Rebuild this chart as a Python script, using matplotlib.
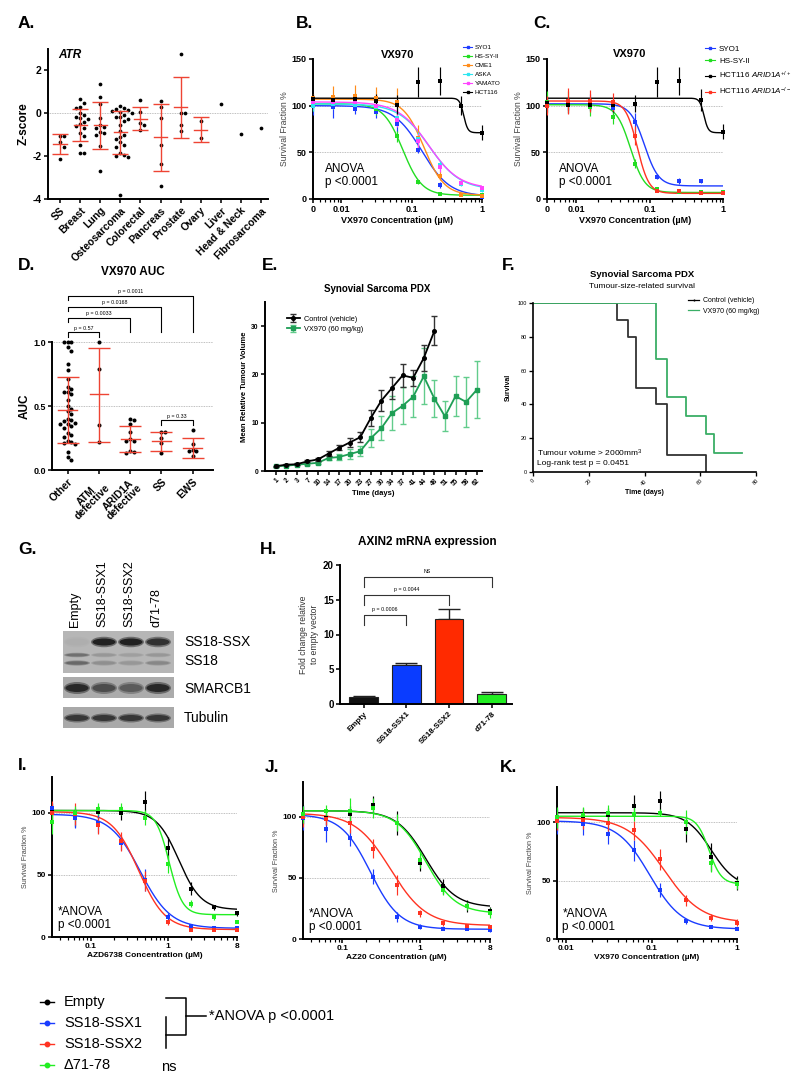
import numpy as np
import matplotlib
matplotlib.use('Agg')
import matplotlib.pyplot as plt
from matplotlib.lines import Line2D
from matplotlib.patches import Rectangle, Ellipse
from matplotlib.ticker import FixedLocator, LogLocator, NullFormatter

plt.rcParams['font.family'] = ['Liberation Sans', 'DejaVu Sans']
plt.rcParams['mathtext.fontset'] = 'custom'
plt.rcParams['mathtext.rm'] = 'Liberation Sans'
plt.rcParams['mathtext.it'] = 'Liberation Sans:italic'
plt.rcParams['mathtext.bf'] = 'Liberation Sans:bold'
plt.rcParams['axes.unicode_minus'] = False

# ---------------- data ----------------
# A. ATR z-scores per tumour type
a_groups = ['SS', 'Breast', 'Lung', 'Osteosarcoma', 'Colorectal', 'Pancreas',
            'Prostate', 'Ovary', 'Liver', 'Head & Neck', 'Fibrosarcoma']
a_z = [
    [-1.05, -1.07, -1.35, -1.55, -2.15],
    [0.69, 0.47, 0.28, 0.23, 0.03, -0.08, -0.16, -0.23, -0.28, -0.39, -0.5, -0.6,
     -0.7, -0.9, -1.06, -1.5, -1.84, -1.86],
    [1.38, 0.78, 0.44, -0.23, -0.55, -0.63, -0.7, -0.86, -0.94, -1.02, -1.52, -2.69],
    [0.34, 0.23, 0.19, 0.16, 0.12, 0.08, 0.0, -0.08, -0.16, -0.19, -0.28, -0.34, -0.55,
     -0.81, -1.02, -1.09, -1.22, -1.33, -1.48, -1.56, -1.84, -1.95, -2.0, -2.03, -3.83],
    [0.62, 0.08, -0.47, -0.55, -0.78],
    [0.56, 0.31, -0.23, -1.48, -2.38, -3.4],
    [2.77, 0.0, 0.02, -0.55, -0.83],
    [-0.36, -1.17],
    [0.42], [-0.97], [-0.67],
]
a_mean = [-1.42, -0.55, -0.55, -0.88, -0.25, -1.1, 0.28, -0.77]
a_hi = [-0.97, 0.2, 0.55, 0.12, 0.3, 0.45, 1.7, -0.17]
a_lo = [-1.88, -1.3, -1.65, -1.9, -0.8, -2.7, -1.15, -1.35]

# B. VX970 dose response, synovial sarcoma lines
b_lines = ['SYO1', 'HS-SY-II', 'CME1', 'ASKA', 'YAMATO', 'HCT116']
b_colors = ['#1f3cff', '#22dd22', '#ff8c1a', '#2ee6f0', '#ff44ff', 'black']
b_conc = [0, 0.0078, 0.0156, 0.03125, 0.0625, 0.125, 0.25, 0.5, 1]
b_mean = [
    [100, 99, 96, 93, 80, 53, 15, 4, 2],
    [102, 103, 106, 96, 67, 18, 5, 4, 4],
    [108, 109, 110, 108, 104, 65, 25, 4, 3],
    [100, 102, 101, 99, 87, 64, 36, 16, 10],
    [104, 104, 104, 100, 85, 62, 34, 17, 12],
    [107, 106, 107, 105, 101, 125, 126, 100, 71],
]
b_err = [
    [10, 12, 5, 6, 8, 4, 3, 1, 1],
    [8, 7, 8, 6, 6, 2, 1, 1, 1],
    [5, 12, 12, 12, 15, 14, 5, 1, 1],
    [6, 6, 6, 6, 8, 8, 5, 2, 2],
    [6, 6, 6, 6, 8, 8, 5, 2, 2],
    [5, 5, 6, 8, 10, 16, 15, 10, 8],
]
# fitted curves: top, bottom, EC50, hill
b_fit = [(100, 3, 0.14, 2.2), (102, 4, 0.075, 3.2), (107, 4, 0.15, 3.0),
         (102, 10, 0.18, 2.0), (104, 11, 0.175, 2.0), (108, 71, 0.55, 15)]

# C. VX970, SS lines vs ARID1A isogenic pair
c_lines = ['SYO1', 'HS-SY-II', r'HCT116 $\mathit{ARID1A}^{+/+}$', r'HCT116 $\mathit{ARID1A}^{-/-}$']
c_colors = ['#1f3cff', '#22dd22', 'black', '#ff3322']
c_mean = [
    [101, 101, 103, 98, 82, 24, 19, 19, 6],
    [104, 104, 99, 88, 38, 11, 7.5, 7, 7],
    [103, 101, 101, 101, 102, 125, 126, 106, 72],
    [100, 105, 105, 104, 68, 9, 9, 6, 6],
]
c_err = [
    [8, 9, 9, 8, 10, 3, 3, 2, 1],
    [12, 12, 10, 8, 5, 2, 1, 1, 1],
    [6, 6, 6, 8, 9, 16, 15, 12, 8],
    [10, 14, 12, 10, 10, 2, 1, 1, 1],
]
c_fit = [(102, 14, 0.085, 4.5), (101, 7, 0.055, 4.5), (108, 71, 0.55, 15), (105, 6, 0.068, 5.5)]

# D. VX970 AUC by genotype
d_groups = ['Other', 'ATM\ndefective', 'ARID1A\ndefective', 'SS', 'EWS']
d_auc = [
    [1.0, 1.0, 1.0, 0.96, 0.93, 0.83, 0.78, 0.71, 0.65, 0.63, 0.61, 0.61, 0.59, 0.55,
     0.50, 0.48, 0.46, 0.44, 0.40, 0.39, 0.38, 0.37, 0.36, 0.36, 0.34, 0.33, 0.29,
     0.27, 0.26, 0.23, 0.22, 0.21, 0.20, 0.14, 0.10, 0.08],
    [1.0, 0.79, 0.35, 0.22],
    [0.40, 0.39, 0.36, 0.30, 0.24, 0.23, 0.23, 0.15, 0.14, 0.13],
    [0.30, 0.30, 0.25, 0.21, 0.13],
    [0.31, 0.20, 0.15, 0.15, 0.16, 0.11],
]
d_mean = [0.47, 0.59, 0.24, 0.23, 0.17]
d_hi = [0.73, 0.95, 0.34, 0.30, 0.25]
d_lo = [0.21, 0.22, 0.14, 0.15, 0.09]
d_pvals = [(0, 1, 'p = 0.57'), (0, 2, 'p = 0.0033'), (0, 3, 'p = 0.0168'),
           (0, 4, 'p = 0.0011'), (3, 4, 'p = 0.33')]

# E. PDX tumour growth
e_days = ['1', '2', '3', '7', '10', '14', '17', '20', '23', '27', '30', '34', '37',
          '41', '44', '48', '51', '55', '58', '62']
e_ctrl = [1.0, 1.3, 1.4, 2.0, 2.4, 3.6, 4.8, 5.9, 7.0, 11.0, 14.6, 17.2, 19.8, 19.3, 23.4, 29.0]
e_ctrl_err = [0.1, 0.1, 0.2, 0.2, 0.3, 0.5, 0.5, 0.9, 1.0, 1.6, 2.2, 2.2, 2.4, 1.6, 2.6, 3.0]
e_vx = [1.0, 1.1, 1.3, 1.5, 1.7, 2.7, 2.9, 3.5, 4.1, 6.8, 8.9, 12.0, 13.5, 15.4, 19.6,
        15.0, 11.3, 15.5, 14.3, 16.8]
e_vx_err = [0.1, 0.1, 0.1, 0.2, 0.2, 0.5, 0.7, 1.0, 1.0, 1.9, 2.5, 3.5, 3.8, 4.2, 5.8,
            3.9, 3.1, 4.2, 5.1, 5.9]

# F. Kaplan-Meier
f_ctrl_t = [0, 30, 34, 37, 44, 48, 62]
f_ctrl_s = [100, 90, 80, 50, 40, 10, 0]
f_vx_t = [0, 44, 48, 55, 62, 65, 75]
f_vx_s = [100, 66.7, 44.4, 33.3, 22.2, 11.1, 11.1]

# G. western blot band intensities (0-1)
g_lanes = ['Empty', 'SS18-SSX1', 'SS18-SSX2', 'd71-78']
g_fusion = [0.05, 0.95, 0.95, 0.85]
g_ss18_a = [0.45, 0.2, 0.15, 0.2]
g_ss18_b = [0.5, 0.25, 0.2, 0.3]
g_smarcb1 = [0.9, 0.65, 0.55, 0.9]
g_tubulin = [0.8, 0.8, 0.8, 0.8]

# H. AXIN2 qPCR
h_labels = ['Empty', 'SS18-SSX1', 'SS18-SSX2', 'd71-78']
h_vals = [1.0, 5.6, 12.3, 1.45]
h_err = [0.1, 0.3, 1.3, 0.25]
h_pvals = [(0, 1, 'p = 0.0006'), (0, 2, 'p = 0.0044'), (0, 3, 'NS')]

# I-K. construct lines
ijk_names = ['Empty', 'SS18-SSX1', 'SS18-SSX2', '\u039471-78']
ijk_colors = ['black', '#1a3cff', '#ff3322', '#22ee22']
i_conc = [0.03125, 0.0625, 0.125, 0.25, 0.5, 1, 2, 4, 8]
i_mean = [
    [101, 96, 101, 100, 109, 72, 39, 24, 19],
    [104, 96, 92, 76, 46, 16, 9, 7, 7],
    [100, 99, 90, 77, 45, 12, 6, 6, 6],
    [93, 100, 103, 103, 96, 59, 27, 16, 12],
]
i_err = [[7, 7, 5, 6, 9, 9, 5, 2, 2], [4, 8, 8, 6, 9, 3, 1, 1, 1],
         [10, 9, 7, 8, 8, 2, 1, 1, 1], [10, 6, 5, 5, 6, 7, 3, 2, 1]]
i_fit = [(102, 22, 1.4, 3.0), (99, 7, 0.44, 2.2), (101, 6, 0.42, 2.5), (102, 18, 1.05, 5.0)]

j_conc = [0.03125, 0.0625, 0.125, 0.25, 0.5, 1, 2, 4, 8]
j_mean = [
    [102, 99, 102, 110, 95, 62, 43, 27, 23],
    [99, 90, 83, 51, 18, 10, 8, 8, 7],
    [100, 98, 95, 74, 44, 21, 13, 11, 9.5],
    [102, 105, 105, 107, 95, 65, 40, 27, 21],
]
j_err = [[8, 6, 7, 7, 10, 6, 6, 5, 3], [10, 11, 7, 6, 4, 2, 1, 1, 1],
         [8, 5, 8, 8, 8, 3, 2, 1, 1], [7, 5, 10, 8, 7, 7, 4, 3, 4]]
j_fit = [(105, 26, 1.2, 2.3), (102, 8, 0.23, 2.3), (103, 11, 0.42, 1.9), (105, 21, 1.2, 2.3)]

k_conc = [0.0078, 0.0156, 0.03125, 0.0625, 0.125, 0.25, 0.5, 1]
k_mean = [
    [101, 105, 106, 114, 118, 94, 70, 48],
    [101, 98, 90, 76, 42, 15, 10, 8.5],
    [101, 102, 99, 93, 68, 33, 18, 14],
    [104, 106, 108, 107, 108, 100, 65, 47],
]
k_err = [[9, 7, 6, 9, 9, 11, 12, 6], [11, 9, 9, 9, 6, 2, 1, 1],
         [8, 8, 7, 8, 9, 5, 3, 3], [9, 7, 7, 6, 3, 10, 8, 4]]
k_fit = [(108, 44, 0.5, 3.0), (101, 8.5, 0.095, 2.3), (104, 14, 0.14, 2.0), (105, 47, 0.47, 6.0)]

# ---------------- drawing ----------------
RED = '#ee4433'
GREY_REF = '#aaaaaa'
W, H = 800, 1088
fig = plt.figure(figsize=(W / 100, H / 100), dpi=100)


def add_ax(l, t, r, b):
    return fig.add_axes([l / W, 1 - b / H, (r - l) / W, (b - t) / H])


def prism(ax, lw=1.4, size=6.5):
    ax.spines['top'].set_visible(False)
    ax.spines['right'].set_visible(False)
    ax.spines['left'].set_linewidth(lw)
    ax.spines['bottom'].set_linewidth(lw)
    ax.tick_params(which='major', width=lw * 0.8, length=3, labelsize=size, pad=1.5)
    ax.tick_params(which='minor', width=lw * 0.6, length=1.8)
    ax.patch.set_alpha(0)


def bold_ticks(ax):
    for t in ax.get_xticklabels() + ax.get_yticklabels():
        t.set_fontweight('bold')


def panel_label(x, y, s):
    fig.text(x / W, 1 - y / H, s, fontsize=12.5, fontweight='bold', va='center', ha='left')


def swarm(vals, dy, dx):
    vals = np.asarray(vals, dtype=float)
    xs = np.zeros(len(vals))
    placed = []
    for i in np.argsort(-vals):
        k = 0
        while True:
            off = ((k + 1) // 2) * dx * (1 if k % 2 else -1)
            if all(abs(pv - vals[i]) >= dy or abs(px - off) >= dx * 0.95 for pv, px in placed):
                break
            k += 1
        xs[i] = off
        placed.append((vals[i], off))
    return xs


def dose_panel(ax, conc, means, errs, fits, colors, xmin, xmax, ymax, zero_at=None):
    x = np.array([zero_at if c == 0 else c for c in conc], dtype=float)
    grid = np.logspace(np.log10(xmin), np.log10(xmax), 500)
    ax.set_xscale('log')
    for ref in (50, 100):
        ax.axhline(ref, color=GREY_REF, lw=0.6, ls=(0, (1, 1)), zorder=0)
    for m, e, f, c in zip(means, errs, fits, colors):
        top, bottom, ec50, hill = f
        ax.plot(grid, bottom + (top - bottom) / (1 + (grid / ec50) ** hill), color=c, lw=1.0, zorder=2)
        ax.errorbar(x, m, yerr=e, fmt='s', ms=2.4, mew=0, color=c, elinewidth=0.85,
                    capsize=2.2, capthick=0.85, clip_on=False, zorder=3)
    ax.set_xlim(xmin, xmax)
    ax.set_ylim(0, ymax)
    prism(ax)
    ax.xaxis.set_minor_locator(LogLocator(base=10, subs=np.arange(2, 10), numticks=30))
    ax.xaxis.set_minor_formatter(NullFormatter())


# ---- A ----
axA = add_ax(48, 49, 268, 199)
axA.axhline(0, color=GREY_REF, lw=0.6, ls=(0, (1, 1)), zorder=0)
for i, vals in enumerate(a_z):
    axA.plot(i + swarm(vals, 0.24, 0.2), vals, 'o', color='black', ms=2.7, mew=0,
             clip_on=False, zorder=3)
for i, (m, hi, lo) in enumerate(zip(a_mean, a_hi, a_lo)):
    axA.plot([i - 0.33, i + 0.33], [m, m], color=RED, lw=1.0, zorder=4)
    axA.errorbar([i], [m], yerr=[[m - lo], [hi - m]], fmt='none', ecolor=RED,
                 elinewidth=1.0, capsize=5.5, capthick=1.0, zorder=4)
axA.set_xlim(-0.6, 10.35)
axA.set_ylim(-4, 3)
axA.set_yticks([-4, -2, 0, 2])
axA.set_xticks(range(len(a_groups)))
axA.set_xticklabels(a_groups, rotation=45, ha='right', rotation_mode='anchor')
prism(axA, size=7.5)
bold_ticks(axA)
axA.set_ylabel('Z-score', fontsize=8.5, fontweight='bold', labelpad=2)
axA.text(0.045, 0.96, 'ATR', transform=axA.transAxes, fontsize=8.5, fontweight='bold',
         fontstyle='italic', va='center')

# ---- B ----
axB = add_ax(313, 59, 482, 199)
dose_panel(axB, b_conc, b_mean, b_err, b_fit, b_colors, 0.004, 1, 150, zero_at=0.004)
axB.xaxis.set_major_locator(FixedLocator([0.004, 0.01, 0.1, 1]))
axB.set_xticklabels(['0', '0.01', '0.1', '1'])
axB.set_yticks([0, 50, 100, 150])
bold_ticks(axB)
axB.set_ylabel('Survival Fraction %', fontsize=6.2, color='#444444', labelpad=2)
axB.set_xlabel('VX970 Concentration (\u00b5M)', fontsize=6.5, fontweight='bold', labelpad=1)
axB.text(0.5, 1.03, 'VX970', transform=axB.transAxes, ha='center', va='center',
         fontsize=8, fontweight='bold')
axB.text(0.07, 0.08, 'ANOVA\np <0.0001', transform=axB.transAxes, fontsize=8.5,
         va='bottom', linespacing=1.1)
hB = [Line2D([], [], color=c, marker='s', ms=1.8, lw=0.8) for c in b_colors]
axB.legend(hB, b_lines, loc='upper left', bbox_to_anchor=(0.89, 1.1), fontsize=4.6,
           frameon=False, handlelength=1.3, handletextpad=0.5, labelspacing=0.55,
           borderpad=0, borderaxespad=0)

# ---- C ----
axC = add_ax(547, 59, 723, 199)
dose_panel(axC, b_conc, c_mean, c_err, c_fit, c_colors, 0.004, 1, 150, zero_at=0.004)
axC.xaxis.set_major_locator(FixedLocator([0.004, 0.01, 0.1, 1]))
axC.set_xticklabels(['0', '0.01', '0.1', '1'])
axC.set_yticks([0, 50, 100, 150])
bold_ticks(axC)
axC.set_ylabel('Survival Fraction %', fontsize=6.2, color='#444444', labelpad=2)
axC.set_xlabel('VX970 Concentration (\u00b5M)', fontsize=6.5, fontweight='bold', labelpad=1)
axC.text(0.47, 1.035, 'VX970', transform=axC.transAxes, ha='center', va='center',
         fontsize=8, fontweight='bold')
axC.text(0.07, 0.08, 'ANOVA\np <0.0001', transform=axC.transAxes, fontsize=8.5,
         va='bottom', linespacing=1.1)
hC = [Line2D([], [], color=c, marker='s', ms=1.8, lw=0.8) for c in c_colors]
axC.legend(hC, c_lines, loc='upper left', bbox_to_anchor=(0.9, 1.1), fontsize=5.8,
           frameon=False, handlelength=1.2, handletextpad=0.5, labelspacing=0.6,
           borderpad=0, borderaxespad=0)

# ---- D ----
axD = add_ax(52, 342, 213, 470)
for ref in (0.5, 1.0):
    axD.axhline(ref, color=GREY_REF, lw=0.6, ls=(0, (1, 1)), zorder=0)
for i, vals in enumerate(d_auc):
    axD.plot(i + swarm(vals, 0.032, 0.12), vals, 'o', color='black', ms=2.9, mew=0,
             clip_on=False, zorder=3)
for i, (m, hi, lo) in enumerate(zip(d_mean, d_hi, d_lo)):
    axD.plot([i - 0.3, i + 0.3], [m, m], color=RED, lw=1.0, zorder=4)
    axD.errorbar([i], [m], yerr=[[m - lo], [hi - m]], fmt='none', ecolor=RED,
                 elinewidth=1.0, capsize=8, capthick=1.0, zorder=4)
# comparison brackets (line height, right-end drop)
d_bracket_y = [(1.076, 1.04), (1.188, 1.076), (1.274, 1.076), (1.363, 1.076), (0.39, 0.35)]
for (x0, x1, txt), (yb, yr) in zip(d_pvals, d_bracket_y):
    axD.plot([x0, x0, x1, x1], [yb - 0.035, yb, yb, yr], color='black', lw=0.8,
             clip_on=False)
    axD.text((x0 + x1) / 2, yb + 0.012, txt, fontsize=3.8, ha='center', va='bottom')
axD.set_xlim(-0.5, 4.65)
axD.set_ylim(0, 1.0)
axD.set_yticks([0, 0.5, 1.0])
axD.set_yticklabels(['0.0', '0.5', '1.0'])
axD.set_xticks(range(len(d_groups)))
axD.set_xticklabels(d_groups, rotation=45, ha='right', rotation_mode='anchor',
                    multialignment='center', linespacing=0.85)
prism(axD, size=6.5)
bold_ticks(axD)
for t in axD.get_xticklabels():
    t.set_fontsize(7.5)
axD.set_ylabel('AUC', fontsize=8.5, fontweight='bold', labelpad=2)
axD.text(0.5, 1.55, 'VX970 AUC', transform=axD.transAxes, ha='center', va='center',
         fontsize=8.5, fontweight='bold')

# ---- E ----
axE = add_ax(265, 302, 482, 471)
xe = np.arange(len(e_days))
GREEN_E = '#1e9e55'
eb_vx = axE.errorbar(xe[:len(e_vx)], e_vx, yerr=e_vx_err, fmt='-s', color=GREEN_E,
                     ecolor='#62cc8c', ms=2.6, lw=1.3, elinewidth=1.0, capsize=2,
                     capthick=1.0, zorder=2)
eb_c = axE.errorbar(xe[:len(e_ctrl)], e_ctrl, yerr=e_ctrl_err, fmt='-o', color='black',
                    ecolor='#333333', ms=2.6, lw=1.3, elinewidth=1.0, capsize=2,
                    capthick=1.0, zorder=3)
axE.set_xlim(-1.0, 19.5)
axE.set_ylim(0, 35)
axE.set_yticks([0, 10, 20, 30])
axE.set_xticks(xe)
axE.set_xticklabels(e_days, rotation=45, ha='right', rotation_mode='anchor')
prism(axE, size=4.8)
bold_ticks(axE)
axE.set_xlabel('Time (days)', fontsize=5.5, fontweight='bold', labelpad=2)
axE.set_ylabel('Mean Relative Tumour Volume', fontsize=5.5, fontweight='bold', labelpad=2)
axE.text(0.516, 1.077, 'Synovial Sarcoma PDX', transform=axE.transAxes, ha='center',
         va='center', fontsize=7, fontweight='bold')
axE.legend([eb_c, eb_vx], ['Control (vehicle)', 'VX970 (60 mg/kg)'], loc='upper left',
           bbox_to_anchor=(0.1, 0.92), fontsize=5.3, frameon=False, handlelength=1.8,
           handletextpad=0.5, labelspacing=0.4, borderpad=0, borderaxespad=0)

# ---- F ----
axF = add_ax(533, 303, 756, 472)
GREEN_F = '#3aae66'
axF.step(f_ctrl_t, f_ctrl_s, where='post', color='#333333', lw=1.3)
axF.step(f_vx_t, f_vx_s, where='post', color=GREEN_F, lw=1.3)
axF.set_xlim(0, 80)
axF.set_ylim(0, 100)
axF.set_xticks([0, 20, 40, 60, 80])
axF.set_yticks([0, 20, 40, 60, 80, 100])
prism(axF, lw=1.2, size=4)
axF.tick_params(axis='x', labelrotation=45)
axF.set_xlabel('Time (days)', fontsize=5, fontweight='bold', labelpad=2)
axF.set_ylabel('Survival', fontsize=5, fontweight='bold', labelpad=4)
axF.text(0.49, 1.166, 'Synovial Sarcoma PDX', transform=axF.transAxes, ha='center',
         va='center', fontsize=6.8, fontweight='bold')
axF.text(0.49, 1.10, 'Tumour-size-related survival', transform=axF.transAxes, ha='center',
         va='center', fontsize=6)
axF.text(0.02, 0.03, 'Tumour volume > 2000mm$^3$\nLog-rank test p = 0.0451',
         transform=axF.transAxes, fontsize=6, va='bottom', linespacing=1.15)
hF = [Line2D([], [], color='black', lw=0.9, marker='|', ms=2),
      Line2D([], [], color=GREEN_F, lw=0.9)]
axF.legend(hF, ['Control (vehicle)', 'VX970 (60 mg/kg)'], loc='upper left',
           bbox_to_anchor=(0.695, 1.035), fontsize=5, frameon=False, handlelength=1.6,
           handletextpad=0.6, labelspacing=0.55, borderpad=0, borderaxespad=0)

# ---- G (western blot) ----
axG = add_ax(0, 480, 260, 760)
axG.set_xlim(0, 260)
axG.set_ylim(760, 480)
axG.axis('off')
lane_x = 77 + 27 * np.arange(len(g_lanes))
blot_boxes = [(631, 42, '#b6b6b6'), (677, 21, '#ababab'), (707, 21, '#a9a9a9')]
for top, hgt, bg in blot_boxes:
    axG.add_patch(Rectangle((63, top), 111, hgt, fc=bg, ec='none'))


def band_colour(level, bg):
    bgv = int(bg[1:3], 16) / 255
    v = bgv * (1 - level) + 0.1 * level
    return (v, v, v)


band_rows = [(g_fusion, 642, 7, '#b6b6b6'), (g_ss18_a, 655, 3, '#b6b6b6'),
             (g_ss18_b, 663, 3.5, '#b6b6b6'), (g_smarcb1, 688, 8, '#ababab'),
             (g_tubulin, 718, 6, '#a9a9a9')]
for levels, yrow, hgt, bg in band_rows:
    for xl, lv in zip(lane_x, levels):
        axG.add_patch(Ellipse((xl, yrow), 26, hgt * 1.5, fc=band_colour(lv * 0.5, bg), ec='none'))
        axG.add_patch(Ellipse((xl, yrow), 23, hgt, fc=band_colour(lv, bg), ec='none'))
for xl, name in zip(lane_x, g_lanes):
    axG.text(xl - 2, 627, name, rotation=90, ha='center', va='bottom', fontsize=9)
for name, yrow in [('SS18-SSX', 642), ('SS18', 661), ('SMARCB1', 689), ('Tubulin', 718)]:
    axG.text(184, yrow, name, ha='left', va='center', fontsize=10)

# ---- H ----
axH = add_ax(340, 565, 512, 704)
xh = np.arange(len(h_labels))
h_colors = ['#111111', '#0a3cff', '#ff2a00', '#22ee22']
axH.bar(xh, h_vals, width=0.68, color=h_colors, edgecolor='#222222', lw=0.8, zorder=2)
axH.errorbar(xh, h_vals, yerr=[np.zeros(len(h_vals)), h_err], fmt='none',
             ecolor='#222222', elinewidth=1.0, capsize=8, capthick=1.0, zorder=1)
h_bracket_y = [12.8, 15.7, 18.3]
for (x0, x1, txt), yb in zip(h_pvals, h_bracket_y):
    axH.plot([x0, x0, x1, x1], [yb - 1.5, yb, yb, yb - 1.5], color='#333333', lw=0.8,
             clip_on=False)
    axH.text((x0 + x1) / 2, yb + 0.4, txt, fontsize=3.8, ha='center', va='bottom')
axH.set_xlim(-0.56, 3.48)
axH.set_ylim(0, 20)
axH.set_yticks([0, 5, 10, 15, 20])
axH.set_xticks(xh)
axH.set_xticklabels(h_labels, rotation=45, ha='right', rotation_mode='anchor')
prism(axH, size=7)
bold_ticks(axH)
for t in axH.get_xticklabels():
    t.set_fontsize(5.8)
axH.set_ylabel('Fold change relative\nto empty vector', fontsize=6.2, color='#333333',
               labelpad=3)
axH.text(0.506, 1.165, 'AXIN2 mRNA expression', transform=axH.transAxes, ha='center',
         va='center', fontsize=8.5, fontweight='bold')

# ---- I, J, K ----
axI = add_ax(52, 777, 237, 937)
dose_panel(axI, i_conc, i_mean, i_err, i_fit, ijk_colors, 0.03125, 8, 129)
axI.xaxis.set_major_locator(FixedLocator([0.1, 1, 8]))
axI.set_xticklabels(['0.1', '1', '8'])
axI.set_xlabel('AZD6738 Concentration (\u00b5M)', fontsize=6, fontweight='bold', labelpad=1)

axJ = add_ax(303, 782, 490, 939)
dose_panel(axJ, j_conc, j_mean, j_err, j_fit, ijk_colors, 0.03125, 8, 128.5)
axJ.xaxis.set_major_locator(FixedLocator([0.1, 1, 8]))
axJ.set_xticklabels(['0.1', '1', '8'])
axJ.set_xlabel('AZ20 Concentration (\u00b5M)', fontsize=6, fontweight='bold', labelpad=1)

axK = add_ax(557, 787, 737, 939)
dose_panel(axK, k_conc, k_mean, k_err, k_fit, ijk_colors, 0.0078, 1, 130)
axK.xaxis.set_major_locator(FixedLocator([0.01, 0.1, 1]))
axK.set_xticklabels(['0.01', '0.1', '1'])
axK.set_xlabel('VX970 Concentration (\u00b5M)', fontsize=6, fontweight='bold', labelpad=1)

for ax in (axI, axJ, axK):
    ax.set_yticks([0, 50, 100])
    ax.tick_params(labelsize=6)
    bold_ticks(ax)
    ax.set_ylabel('Survival Fraction %', fontsize=5.2, color='#444444', labelpad=2)
    ax.text(0.03, 0.04, '*ANOVA\np <0.0001', transform=ax.transAxes, fontsize=8.5,
            va='bottom', linespacing=1.1)

# ---- shared legend for I-K ----
axL = add_ax(0, 985, 400, 1080)
axL.set_xlim(0, 400)
axL.set_ylim(1080, 985)
axL.axis('off')
for k, (name, col) in enumerate(zip(ijk_names, ijk_colors)):
    yk = 1002 + 21 * k
    axL.plot([40, 54], [yk, yk], color=col, lw=1.0)
    axL.plot([47], [yk], 'o', color=col, ms=3.2)
    axL.text(64, yk, name, fontsize=10.5, va='center')
axL.plot([166, 186, 186, 166], [998, 998, 1035, 1035], color='black', lw=1.1)
axL.plot([166, 166], [1017, 1048], color='black', lw=1.1)
axL.plot([186, 206], [1016, 1016], color='black', lw=1.1)
axL.text(209, 1016, '*ANOVA p <0.0001', fontsize=10.5, va='center')
axL.text(161, 1067, 'ns', fontsize=10.5, va='center')

# ---- panel letters ----
for s, x, y in [('A.', 18, 24), ('B.', 296, 23), ('C.', 533, 24), ('D.', 18, 266),
                ('E.', 262, 266), ('F.', 502, 266), ('G.', 18, 549), ('H.', 260, 549),
                ('I.', 18, 766), ('J.', 265, 768), ('K.', 500, 768)]:
    panel_label(x, y, s)

fig.savefig('out.png', dpi=100)
